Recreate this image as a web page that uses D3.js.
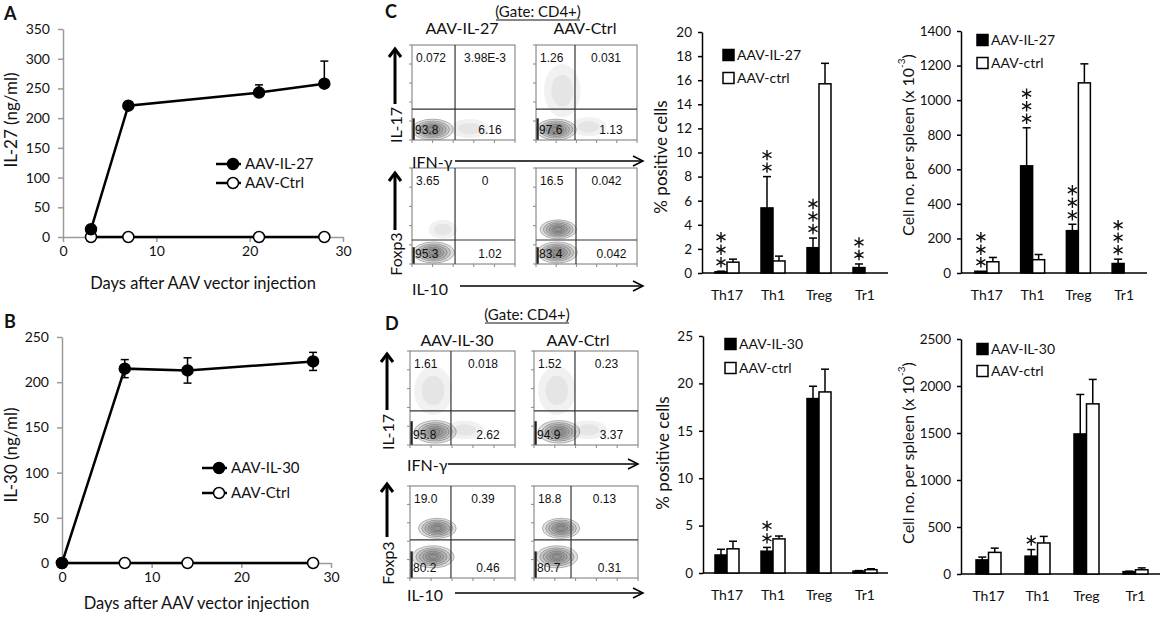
<!DOCTYPE html>
<html>
<head>
<meta charset="utf-8">
<script src="https://cdn.jsdelivr.net/npm/d3@7"></script>
<style>
  body { margin: 0; background: #fff; }
  svg { display: block; }
</style>
</head>
<body>
<svg id="fig" width="1160" height="620"></svg>
<script>
// ---- data ----

// A: serum IL-27 (ng/ml)
const daysA = [3, 7, 21, 28];
const il27 = [13, 221, 243, 258];
const il27Err = [0, 3, 13, 38];
const ctrlA = [0, 0, 0, 0];
const ticksA = [0, 50, 100, 150, 200, 250, 300, 350];

// B: serum IL-30 (ng/ml)
const daysB = [0, 7, 14, 28];
const il30 = [0, 215, 213, 223];
const il30Err = [0, 10, 14, 10];
const ctrlB = [0, 0, 0, 0];
const ticksB = [0, 50, 100, 150, 200, 250];

const dayTicks = [0, 10, 20, 30];

// bar charts
const cellTypes = ['Th17', 'Th1', 'Treg', 'Tr1'];

// C, % positive cells
const pctIL27 = [0.1, 5.4, 2.1, 0.45];
const pctIL27Err = [0.05, 2.6, 0.8, 0.3];
const pctCtrlC = [0.9, 1.0, 15.7, 0];
const pctCtrlCErr = [0.25, 0.4, 1.7, 0];
const pctStarsC = [3, 2, 3, 2];

// C, cell no. per spleen (x 10^-3)
const numIL27 = [10, 620, 245, 55];
const numIL27Err = [0, 220, 37, 25];
const numCtrlC = [65, 77, 1100, 0];
const numCtrlCErr = [25, 30, 110, 0];
const numStarsC = [3, 3, 3, 3];

// D, % positive cells
const pctIL30 = [1.9, 2.3, 18.4, 0.2];
const pctIL30Err = [0.6, 0.4, 1.3, 0.05];
const pctCtrlD = [2.55, 3.6, 19.1, 0.35];
const pctCtrlDErr = [0.8, 0.3, 2.4, 0.1];
const pctStarsD = [0, 2, 0, 0];

// D, cell no. per spleen (x 10^-3)
const numIL30 = [150, 190, 1490, 25];
const numIL30Err = [30, 70, 420, 5];
const numCtrlD = [230, 330, 1810, 45];
const numCtrlDErr = [45, 70, 260, 20];
const numStarsD = [0, 1, 0, 0];

// flow plots: quadrant numbers (UL, UR, LL, LR)
const quadC_il17_il27 = ['0.072', '3.98E-3', '93.8', '6.16'];
const quadC_il17_ctrl = ['1.26', '0.031', '97.6', '1.13'];
const quadC_foxp3_il27 = ['3.65', '0', '95.3', '1.02'];
const quadC_foxp3_ctrl = ['16.5', '0.042', '83.4', '0.042'];
const quadD_il17_il30 = ['1.61', '0.018', '95.8', '2.62'];
const quadD_il17_ctrl = ['1.52', '0.23', '94.9', '3.37'];
const quadD_foxp3_il30 = ['19.0', '0.39', '80.2', '0.46'];
const quadD_foxp3_ctrl = ['18.8', '0.13', '80.7', '0.31'];

// gates in log decades [x, y]
const gateC_il17_il27 = [2.09, 1.63];
const gateC_il17_ctrl = [1.93, 1.63];
const gateC_foxp3_il27 = [2.09, 1.25];
const gateC_foxp3_ctrl = [1.98, 1.25];
const gateD_il17_il30 = [1.95, 1.81];
const gateD_il17_ctrl = [1.97, 1.81];
const gateD_foxp3_il30 = [1.95, 2.07];
const gateD_foxp3_ctrl = [1.78, 2.07];

// cell populations in log decades: [cx, cy, rx, ry, dense?]
const popC_il17_il27 = [[2.8, 0.6, 0.95, 0.5, 0], [1.0, 0.55, 1.0, 0.55, 1]];
const popC_il17_ctrl = [[1.3, 2.6, 0.9, 1.4, 0], [2.6, 0.7, 0.9, 0.5, 0], [1.0, 0.55, 1.0, 0.55, 1]];
const popC_foxp3_il27 = [[1.5, 1.8, 0.7, 0.5, 0], [1.05, 0.6, 1.0, 0.55, 1]];
const popC_foxp3_ctrl = [[1.1, 1.8, 0.9, 0.5, 1], [1.05, 0.6, 1.0, 0.55, 1]];
const popD_il17_il30 = [[1.1, 2.9, 0.9, 1.3, 0], [2.6, 0.8, 0.9, 0.5, 0], [1.2, 0.7, 1.0, 0.6, 1]];
const popD_il17_ctrl = [[1.1, 2.9, 0.9, 1.3, 0], [2.6, 0.8, 0.9, 0.5, 0], [1.2, 0.7, 1.0, 0.6, 1]];
const popD_foxp3_il30 = [[1.3, 2.7, 0.9, 0.55, 1], [1.1, 1.15, 1.0, 0.6, 1]];
const popD_foxp3_ctrl = [[1.3, 2.7, 0.9, 0.55, 1], [1.1, 1.15, 1.0, 0.6, 1]];

// ---- drawing ----
const FONT = "Lato, 'Open Sans', sans-serif";
const FLOWFONT = "'Liberation Sans', Arial, sans-serif";
const svg = d3.select('#fig');
svg.append('rect').attr('width', 1160).attr('height', 620).attr('fill', '#fff');

function addText(g, txt, x, y, opts = {}) {
    return g.append('text')
        .attr('x', x).attr('y', y)
        .attr('font-family', opts.family || FONT)
        .attr('font-size', opts.size || 14)
        .attr('font-weight', opts.weight || 'normal')
        .attr('text-anchor', opts.anchor || 'start')
        .attr('fill', opts.fill || '#111')
        .text(txt);
}

function addVText(g, txt, x, y, size) {
    return g.append('text')
        .attr('transform', `translate(${x},${y}) rotate(-90)`)
        .attr('font-family', FONT).attr('font-size', size)
        .attr('text-anchor', 'middle').attr('dominant-baseline', 'central')
        .attr('fill', '#111')
        .text(txt);
}

// panel letters
addText(svg, 'A', 4, 20, {size: 18, weight: 'bold'});
addText(svg, 'B', 4, 328, {size: 18, weight: 'bold'});
addText(svg, 'C', 385, 18, {size: 18, weight: 'bold'});
addText(svg, 'D', 385, 330, {size: 18, weight: 'bold'});

// line charts (A, B)
function drawLineChart(cfg) {
    const g = svg.append('g');
    const x = d3.scaleLinear().domain([0, 30]).range(cfg.xRange);
    const y = d3.scaleLinear().domain([0, cfg.ticks[cfg.ticks.length - 1]]).range(cfg.yRange);

    const xAxis = g.append('g')
        .attr('transform', `translate(0,${cfg.yRange[0]})`)
        .call(d3.axisBottom(x).tickValues(dayTicks).tickSize(5).tickSizeOuter(0).tickPadding(4));
    const yAxis = g.append('g')
        .attr('transform', `translate(${cfg.xRange[0]},0)`)
        .call(d3.axisLeft(y).tickValues(cfg.ticks).tickSize(5).tickSizeOuter(0).tickPadding(8));
    [xAxis, yAxis].forEach(a => {
        a.attr('font-family', FONT).attr('font-size', 14);
        a.select('.domain').attr('stroke', '#9a9a9a').attr('stroke-width', 1.5);
        a.selectAll('.tick line').attr('stroke', '#9a9a9a').attr('stroke-width', 1.5);
        a.selectAll('.tick text').attr('fill', '#111');
    });

    addText(g, 'Days after AAV vector injection', (cfg.xRange[0] + cfg.xRange[1]) / 2, cfg.xLabelY, {size: 16.5, anchor: 'middle'});
    addVText(g, cfg.yLabel, 10, cfg.yLabelY, 17);

    const line = d3.line().x(d => x(d[0])).y(d => y(d[1]));
    const treated = cfg.days.map((d, i) => [d, cfg.values[i], cfg.errs[i]]);
    const ctrl = cfg.days.map((d, i) => [d, cfg.ctrl[i]]);

    // error bars
    treated.filter(d => d[2] > 0).forEach(d => {
        const lo = cfg.bothWays ? d[1] - d[2] : d[1];
        const cx = x(d[0]);
        g.append('line').attr('x1', cx).attr('x2', cx).attr('y1', y(lo)).attr('y2', y(d[1] + d[2]))
            .attr('stroke', '#000').attr('stroke-width', 1.5);
        const caps = cfg.bothWays ? [d[1] + d[2], lo] : [d[1] + d[2]];
        caps.forEach(c => g.append('line').attr('x1', cx - 4).attr('x2', cx + 4)
            .attr('y1', y(c)).attr('y2', y(c)).attr('stroke', '#000').attr('stroke-width', 1.5));
    });

    g.append('path').datum(ctrl).attr('d', line).attr('fill', 'none').attr('stroke', '#000').attr('stroke-width', 2.5);
    g.append('path').datum(treated).attr('d', line).attr('fill', 'none').attr('stroke', '#000').attr('stroke-width', 2.5);

    g.selectAll('.m-ctrl').data(ctrl).enter().append('circle')
        .attr('cx', d => x(d[0])).attr('cy', d => y(d[1])).attr('r', 5.5)
        .attr('fill', '#fff').attr('stroke', '#000').attr('stroke-width', 1.5);
    g.selectAll('.m-tr').data(treated).enter().append('circle')
        .attr('cx', d => x(d[0])).attr('cy', d => y(d[1])).attr('r', 5.5)
        .attr('fill', '#000').attr('stroke', '#000').attr('stroke-width', 1.5);

    // legend
    [[cfg.legendLabels[0], '#000'], [cfg.legendLabels[1], '#fff']].forEach((item, i) => {
        const ly = cfg.legendY[i];
        const mx = cfg.legendX;
        g.append('line').attr('x1', mx - 17).attr('x2', mx + 8).attr('y1', ly).attr('y2', ly)
            .attr('stroke', '#000').attr('stroke-width', 2.5);
        g.append('circle').attr('cx', mx).attr('cy', ly).attr('r', 5.5)
            .attr('fill', item[1]).attr('stroke', '#000').attr('stroke-width', 1.5);
        addText(g, item[0], mx + 12, ly + 5, {size: 15});
    });
}

drawLineChart({
    days: daysA, values: il27, errs: il27Err, ctrl: ctrlA, ticks: ticksA, bothWays: false,
    xRange: [63, 343], yRange: [237, 29], xLabelY: 289, yLabel: 'IL-27 (ng/ml)', yLabelY: 120,
    legendLabels: ['AAV-IL-27', 'AAV-Ctrl'], legendX: 233, legendY: [164, 183]
});
drawLineChart({
    days: daysB, values: il30, errs: il30Err, ctrl: ctrlB, ticks: ticksB, bothWays: true,
    xRange: [62, 331], yRange: [563, 337], xLabelY: 609, yLabel: 'IL-30 (ng/ml)', yLabelY: 455,
    legendLabels: ['AAV-IL-30', 'AAV-Ctrl'], legendX: 219, legendY: [468, 493]
});

// bar charts
function asteriskPath(r) {
    return [90, 30, 150].map(a => {
        const t = a * Math.PI / 180, dx = r * Math.cos(t), dy = r * Math.sin(t);
        return `M${-dx},${-dy}L${dx},${dy}`;
    }).join('');
}

function drawBarChart(cfg) {
    const g = svg.append('g');
    const x = d3.scaleBand().domain(cellTypes).range(cfg.xRange);
    const y = d3.scaleLinear().domain([0, cfg.yMax]).range(cfg.yRange);
    const bw = cfg.barW;

    const yAxis = g.append('g')
        .attr('transform', `translate(${cfg.axisX},0)`)
        .call(d3.axisLeft(y).tickValues(d3.range(0, cfg.yMax + cfg.step / 2, cfg.step))
            .tickFormat(d3.format('d')).tickSize(4).tickSizeOuter(0).tickPadding(6));
    yAxis.attr('font-family', FONT).attr('font-size', 13.5);
    yAxis.select('.domain').attr('stroke', '#000').attr('stroke-width', 1.5);
    yAxis.selectAll('.tick line').attr('stroke', '#000').attr('stroke-width', 1.5);
    yAxis.selectAll('.tick text').attr('fill', '#111');

    g.append('line').attr('x1', cfg.axisX).attr('x2', cfg.xRange[1])
        .attr('y1', y(0)).attr('y2', y(0)).attr('stroke', '#000').attr('stroke-width', 1.5);

    cellTypes.forEach(c => addText(g, c, x(c) + x.bandwidth() / 2, y(0) + 27, {size: 14, anchor: 'middle'}));

    const groups = [
        {vals: cfg.treated, errs: cfg.treatedErr, fill: '#000', off: -bw},
        {vals: cfg.ctrl, errs: cfg.ctrlErr, fill: '#fff', off: 0}
    ];
    groups.forEach(s => {
        cellTypes.forEach((c, i) => {
            const cx = x(c) + x.bandwidth() / 2 + s.off;
            const v = s.vals[i], e = s.errs[i];
            if (e > 0) {
                g.append('line').attr('x1', cx + bw / 2).attr('x2', cx + bw / 2)
                    .attr('y1', y(v)).attr('y2', y(v + e)).attr('stroke', '#000').attr('stroke-width', 1.5);
                g.append('line').attr('x1', cx + bw / 2 - 4).attr('x2', cx + bw / 2 + 4)
                    .attr('y1', y(v + e)).attr('y2', y(v + e)).attr('stroke', '#000').attr('stroke-width', 1.5);
            }
            g.append('rect').attr('x', cx).attr('y', y(v)).attr('width', bw)
                .attr('height', y(0) - y(v)).attr('fill', s.fill)
                .attr('stroke', '#000').attr('stroke-width', 1.5);
        });
    });

    // significance asterisks above treated bars
    cellTypes.forEach((c, i) => {
        const cx = x(c) + x.bandwidth() / 2 - bw / 2;
        const top = y(cfg.treated[i] + cfg.treatedErr[i]);
        d3.range(cfg.stars[i]).forEach(k => {
            g.append('path').attr('d', asteriskPath(5.2))
                .attr('transform', `translate(${cx},${top - 9 - k * 12.5})`)
                .attr('stroke', '#111').attr('stroke-width', 1.4).attr('fill', 'none');
        });
    });

    // legend
    [[cfg.legendLabels[0], '#000'], [cfg.legendLabels[1], '#fff']].forEach((item, i) => {
        const ly = cfg.legendY[i];
        g.append('rect').attr('x', cfg.legendX).attr('y', ly - 5.5).attr('width', 11).attr('height', 11)
            .attr('fill', item[1]).attr('stroke', '#000').attr('stroke-width', 1.5);
        addText(g, item[0], cfg.legendX + 14, ly + 5, {size: 14});
    });

    // y label
    if (cfg.perSpleen) {
        const t = g.append('text')
            .attr('transform', `translate(${cfg.yLabelX},${cfg.yLabelY}) rotate(-90)`)
            .attr('font-family', FONT).attr('font-size', 16).attr('text-anchor', 'middle')
            .attr('dominant-baseline', 'central').attr('fill', '#111');
        t.append('tspan').text('Cell no. per spleen (x 10');
        t.append('tspan').attr('baseline-shift', 'super').attr('font-size', 10).text('-3');
        t.append('tspan').text(')');
    } else {
        addVText(g, '% positive cells', cfg.yLabelX, cfg.yLabelY, 17);
    }
}

drawBarChart({
    treated: pctIL27, treatedErr: pctIL27Err, ctrl: pctCtrlC, ctrlErr: pctCtrlCErr, stars: pctStarsC,
    yMax: 20, step: 2, axisX: 702, xRange: [704, 888], yRange: [273, 32], barW: 12,
    legendLabels: ['AAV-IL-27', 'AAV-ctrl'], legendX: 723, legendY: [55, 78],
    yLabelX: 660, yLabelY: 157, perSpleen: false
});
drawBarChart({
    treated: numIL27, treatedErr: numIL27Err, ctrl: numCtrlC, ctrlErr: numCtrlCErr, stars: numStarsC,
    yMax: 1400, step: 200, axisX: 961, xRange: [964, 1147], yRange: [273, 31], barW: 12,
    legendLabels: ['AAV-IL-27', 'AAV-ctrl'], legendX: 977, legendY: [40, 63],
    yLabelX: 907, yLabelY: 145, perSpleen: true
});
drawBarChart({
    treated: pctIL30, treatedErr: pctIL30Err, ctrl: pctCtrlD, ctrlErr: pctCtrlDErr, stars: pctStarsD,
    yMax: 25, step: 5, axisX: 703, xRange: [704, 888], yRange: [573, 336], barW: 12,
    legendLabels: ['AAV-IL-30', 'AAV-ctrl'], legendX: 725, legendY: [344, 368],
    yLabelX: 662, yLabelY: 453, perSpleen: false
});
drawBarChart({
    treated: numIL30, treatedErr: numIL30Err, ctrl: numCtrlD, ctrlErr: numCtrlDErr, stars: numStarsD,
    yMax: 2500, step: 500, axisX: 961, xRange: [964, 1160], yRange: [574, 339], barW: 12.5,
    legendLabels: ['AAV-IL-30', 'AAV-ctrl'], legendX: 977, legendY: [349, 371],
    yLabelX: 907, yLabelY: 453, perSpleen: true
});

// flow cytometry plots
let clipId = 0;
function drawFlow(box, gate, pops, quad) {
    const [x0, y0, x1, y1] = box;
    const fx = d3.scaleLinear().domain([0, 5]).range([x0, x1]);
    const fy = d3.scaleLinear().domain([0, 5]).range([y1, y0]);
    const g = svg.append('g');
    const id = 'clip' + (clipId++);
    g.append('clipPath').attr('id', id).append('rect')
        .attr('x', x0).attr('y', y0).attr('width', x1 - x0).attr('height', y1 - y0);
    const inner = g.append('g').attr('clip-path', `url(#${id})`);

    pops.forEach(p => {
        const [cx, cy, rx, ry, dense] = p;
        const levels = dense ? [1, 0.82, 0.66, 0.5, 0.36, 0.22] : [1, 0.6];
        levels.forEach(s => {
            inner.append('ellipse')
                .attr('cx', fx(cx)).attr('cy', fy(cy))
                .attr('rx', (fx(rx) - fx(0)) * s).attr('ry', (fy(0) - fy(ry)) * s)
                .attr('fill', dense ? '#7a7a7a' : '#a0a0a0')
                .attr('fill-opacity', dense ? 0.24 : 0.15)
                .attr('stroke', dense ? '#444' : 'none')
                .attr('stroke-opacity', 0.6).attr('stroke-width', 0.6);
        });
    });
    // events piled on the low edge of the x axis
    inner.append('line').attr('x1', x0 + 1.5).attr('x2', x0 + 1.5)
        .attr('y1', fy(0)).attr('y2', fy(gate[1] * 0.7))
        .attr('stroke', '#222').attr('stroke-width', 2.5);

    g.append('rect').attr('x', x0).attr('y', y0).attr('width', x1 - x0).attr('height', y1 - y0)
        .attr('fill', 'none').attr('stroke', '#777').attr('stroke-width', 1);
    g.append('line').attr('x1', fx(gate[0])).attr('x2', fx(gate[0])).attr('y1', y0).attr('y2', y1)
        .attr('stroke', '#333').attr('stroke-width', 1.2);
    g.append('line').attr('x1', x0).attr('x2', x1).attr('y1', fy(gate[1])).attr('y2', fy(gate[1]))
        .attr('stroke', '#333').attr('stroke-width', 1.2);

    d3.range(6).forEach(d => {
        g.append('line').attr('x1', x0 - 3).attr('x2', x0).attr('y1', fy(d)).attr('y2', fy(d))
            .attr('stroke', '#888').attr('stroke-width', 1);
        g.append('line').attr('x1', fx(d)).attr('x2', fx(d)).attr('y1', y1).attr('y2', y1 + 3)
            .attr('stroke', '#888').attr('stroke-width', 1);
    });

    const rightMid = (fx(gate[0]) + x1) / 2;
    const opts = {family: FLOWFONT, size: 12};
    addText(g, quad[0], x0 + 4, y0 + 17, opts);
    addText(g, quad[1], rightMid, y0 + 17, Object.assign({anchor: 'middle'}, opts));
    addText(g, quad[2], x0 + 3, y1 - 6, opts);
    addText(g, quad[3], rightMid + 5, y1 - 6, Object.assign({anchor: 'middle'}, opts));
}

drawFlow([412, 45, 515, 140], gateC_il17_il27, popC_il17_il27, quadC_il17_il27);
drawFlow([536, 45, 637, 140], gateC_il17_ctrl, popC_il17_ctrl, quadC_il17_ctrl);
drawFlow([412, 168, 515, 264], gateC_foxp3_il27, popC_foxp3_il27, quadC_foxp3_il27);
drawFlow([536, 168, 637, 264], gateC_foxp3_ctrl, popC_foxp3_ctrl, quadC_foxp3_ctrl);
drawFlow([410, 351, 515, 445], gateD_il17_il30, popD_il17_il30, quadD_il17_il30);
drawFlow([534, 351, 638, 445], gateD_il17_ctrl, popD_il17_ctrl, quadD_il17_ctrl);
drawFlow([410, 486, 515, 578], gateD_foxp3_il30, popD_foxp3_il30, quadD_foxp3_il30);
drawFlow([534, 486, 638, 578], gateD_foxp3_ctrl, popD_foxp3_ctrl, quadD_foxp3_ctrl);

// arrows and channel labels
function hArrow(x1, x2, y) {
    svg.append('line').attr('x1', x1).attr('x2', x2).attr('y1', y).attr('y2', y)
        .attr('stroke', '#000').attr('stroke-width', 1.5);
    svg.append('path').attr('d', `M${x2 - 10},${y - 5}L${x2},${y}L${x2 - 10},${y + 5}`)
        .attr('fill', 'none').attr('stroke', '#000').attr('stroke-width', 1.5);
}
function vArrow(x, y1, y2) {
    svg.append('line').attr('x1', x).attr('x2', x).attr('y1', y1).attr('y2', y2 + 1)
        .attr('stroke', '#000').attr('stroke-width', 3);
    svg.append('path').attr('d', `M${x - 6},${y2 + 9}L${x},${y2 + 1}L${x + 6},${y2 + 9}`)
        .attr('fill', 'none').attr('stroke', '#000').attr('stroke-width', 3);
}

// C
addText(svg, '(Gate: CD4+)', 538, 17, {size: 15, anchor: 'middle'});
svg.append('line').attr('x1', 496).attr('x2', 580).attr('y1', 20).attr('y2', 20).attr('stroke', '#111').attr('stroke-width', 1);
addText(svg, 'AAV-IL-27', 462, 34, {size: 16, anchor: 'middle'});
addText(svg, 'AAV-Ctrl', 585, 34, {size: 16, anchor: 'middle'});
addVText(svg, 'IL-17', 395, 125, 16);
vArrow(395, 104, 48);
addText(svg, 'IFN-\u03b3', 412, 168, {size: 16});
hArrow(455, 643, 161);
addVText(svg, 'Foxp3', 395, 254, 16);
vArrow(395, 230, 172);
addText(svg, 'IL-10', 412, 295, {size: 16});
hArrow(460, 643, 286);

// D
addText(svg, '(Gate: CD4+)', 527, 320, {size: 15, anchor: 'middle'});
svg.append('line').attr('x1', 485).attr('x2', 569).attr('y1', 323).attr('y2', 323).attr('stroke', '#111').attr('stroke-width', 1);
addText(svg, 'AAV-IL-30', 457, 346, {size: 16, anchor: 'middle'});
addText(svg, 'AAV-Ctrl', 578, 346, {size: 16, anchor: 'middle'});
addVText(svg, 'IL-17', 387, 432, 16);
vArrow(387, 410, 353);
addText(svg, 'IFN-\u03b3', 407, 471, {size: 16});
hArrow(448, 638, 464);
addVText(svg, 'Foxp3', 387, 563, 16);
vArrow(387, 537, 483);
addText(svg, 'IL-10', 407, 601, {size: 16});
hArrow(455, 643, 593);
</script>
</body>
</html>
